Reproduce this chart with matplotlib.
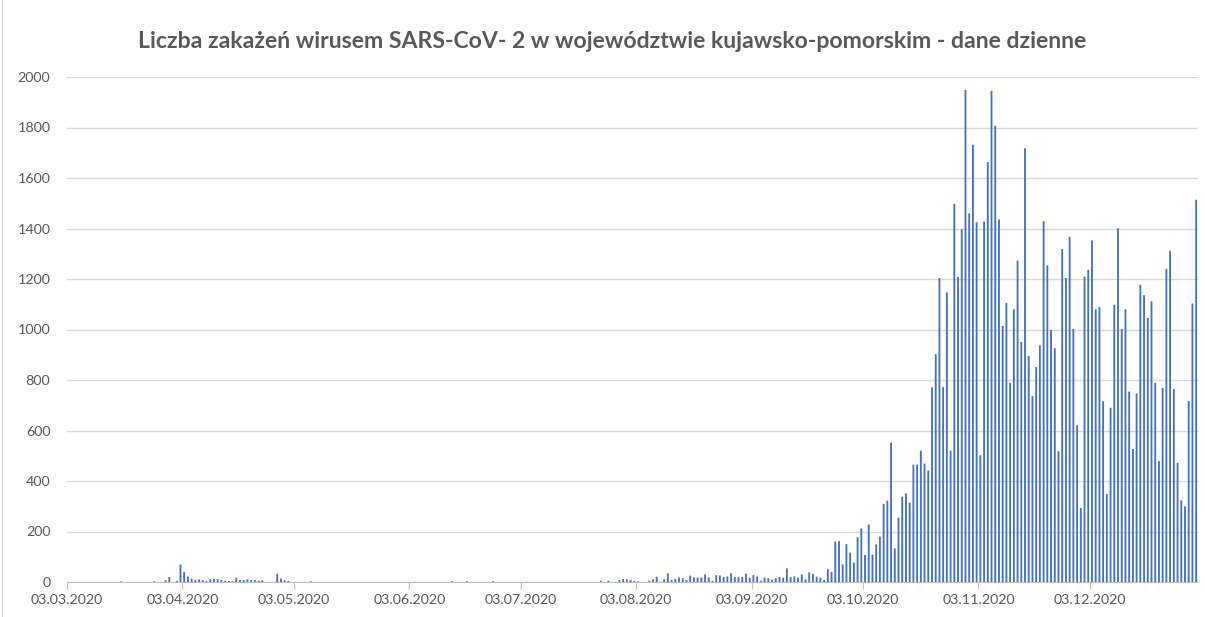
import numpy as np
import pandas as pd
import matplotlib
matplotlib.use('Agg')
import matplotlib.pyplot as plt
import matplotlib.dates as mdates

# dzienne zakazenia, 03.03.2020 - 31.12.2020
mar = [0]*14 + [2] + [0]*8 + [3, 0, 0, 7, 20, 0]
apr = [4, 69, 40, 22, 13, 9, 10, 7, 3, 11, 13, 11, 8, 5, 4, 3, 17, 8, 8, 11,
       8, 8, 5, 7, 0, 0, 0, 33, 14, 7]
may = [4, 0, 0, 0, 0, 0, 3] + [0]*24
jun = [0]*13 + [3, 0, 0, 0, 3] + [0]*6 + [3] + [0]*5
jul = [0]*23 + [5, 0, 5, 0, 0, 8, 12, 11]
aug = [8, 5, 3, 0, 0, 5, 11, 21, 0, 11, 34, 8, 12, 18, 15, 8, 25, 18, 18, 18,
       30, 18, 4, 27, 26, 20, 22, 34, 20, 20, 20]
sep = [33, 17, 28, 22, 5, 17, 15, 9, 15, 20, 17, 54, 20, 22, 17, 30, 10, 38, 32, 21,
       17, 8, 51, 40, 160, 162, 70, 150, 116, 77]
oct_ = [177, 212, 107, 228, 108, 149, 180, 309, 322, 552, 133, 255, 338, 351, 314, 465,
        465, 520, 469, 442, 771, 902, 1204, 772, 1147, 520, 1498, 1208, 1397, 1949, 1460]
nov = [1732, 1425, 502, 1427, 1663, 1945, 1807, 1436, 1014, 1105, 789, 1080, 1273, 950,
       1718, 895, 736, 851, 937, 1429, 1254, 998, 926, 518, 1319, 1204, 1367, 1002, 621, 293]
dec = [1209, 1236, 1353, 1080, 1089, 716, 348, 690, 1098, 1401, 1002, 1080, 754, 527,
       747, 1177, 1136, 1046, 1112, 789, 479, 768, 1240, 1312, 764, 472, 323, 300, 717,
       1103, 1514]

values = mar + apr + may + jun + jul + aug + sep + oct_ + nov + dec
days = pd.date_range('2020-03-03', '2020-12-31', freq='D')
tick_dates = pd.date_range('2020-03-01', '2020-12-01', freq='MS') + pd.Timedelta(days=2)
title = 'Liczba zakażeń wirusem SARS-CoV- 2 w województwie kujawsko-pomorskim - dane dzienne'

plt.rcParams['font.family'] = ['Lato', 'DejaVu Sans']
grey = '#595959'

fig = plt.figure(figsize=(12.05, 6.17), dpi=100)
ax = fig.add_axes([67/1205, 1-582/617, (1198-67)/1205, (582-77)/617])

bars = ax.bar(days + pd.Timedelta(hours=12), values, width=0.5, color='#4472C4',
              linewidth=0, zorder=3)
for b in bars:
    b.set_snap(False)

ax.set_xlim(pd.Timestamp('2020-03-03'), pd.Timestamp('2021-01-01'))
ax.set_ylim(0, 2000)
ax.set_yticks(np.arange(0, 2001, 200))
ax.set_xticks(tick_dates)
ax.xaxis.set_major_formatter(mdates.DateFormatter('%d.%m.%Y'))

ax.grid(axis='y', color='#D9D9D9', lw=1, zorder=0)
for s in ['top', 'right', 'left']:
    ax.spines[s].set_visible(False)
ax.spines['bottom'].set_color('#BFBFBF')
ax.tick_params(axis='y', length=0, pad=12, labelsize=10.3, labelcolor=grey)
ax.tick_params(axis='x', length=5, color='#BFBFBF', pad=4, labelsize=10.3, labelcolor=grey)

fig.text(612/1205, 1-42/617, title, ha='center', va='center',
         fontsize=16.6, fontweight='bold', color=grey)

# ramka wykresu
fig.add_artist(plt.Line2D([2/1205, 2/1205], [0, 1], color='#D9D9D9', lw=1))

fig.savefig('out.png', dpi=100)
